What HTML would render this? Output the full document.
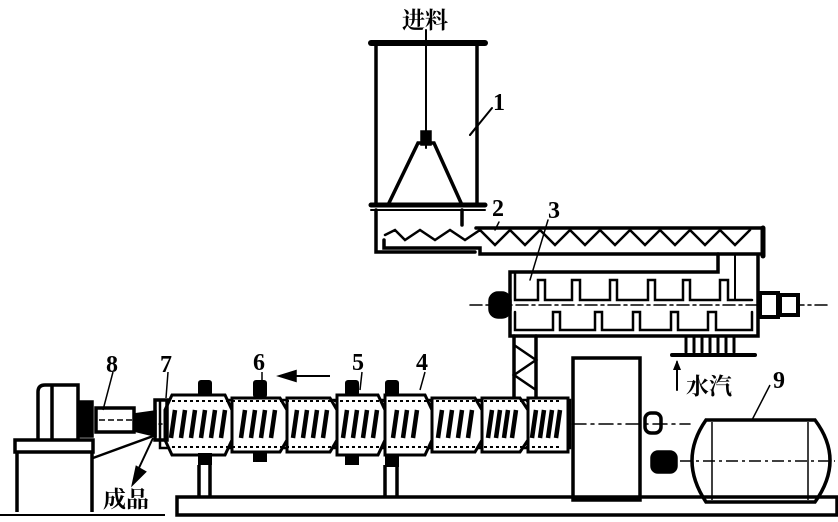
<!DOCTYPE html>
<html><head><meta charset="utf-8"><style>
html,body{margin:0;padding:0;background:#fff;}
svg{display:block;}
text{font-family:"Liberation Serif","Noto Serif CJK SC","Noto Sans CJK SC",serif;font-weight:bold;fill:#000;}
</style></head><body>
<svg width="838" height="522" viewBox="0 0 838 522" xmlns="http://www.w3.org/2000/svg">
<g stroke="#000" fill="none" stroke-width="3.5" stroke-linecap="round">
<!-- hopper -->
<line x1="371" y1="43" x2="485" y2="43" stroke-width="6"/>
<line x1="376" y1="43" x2="376" y2="205"/>
<line x1="477" y1="43" x2="477" y2="205"/>
<line x1="371" y1="205" x2="485" y2="205" stroke-width="5"/>
<line x1="371" y1="210" x2="485" y2="210" stroke-width="2"/>
<line x1="426" y1="30" x2="426" y2="148" stroke-width="2"/>
<polyline points="388,205 418,143 434,143 462,205"/>
<rect x="422" y="132" width="8" height="12" fill="#000"/>
<line x1="478" y1="125" x2="470" y2="135" stroke-width="2"/>
<line x1="470" y1="135" x2="492" y2="108" stroke-width="2"/>
<!-- conveyor 2 -->
<polyline points="376,210 376,252 475,252"/>
<polyline points="384,240 384,248 480,248 480,254 760,254"/>
<line x1="462" y1="210" x2="462" y2="225"/>
<line x1="476" y1="228" x2="762" y2="228"/>
<polyline points="385,235 395,230 405,240 420,230 435,240 450,230 465,240 480,230 495,245 510,230 525,245 540,230 555,245 570,230 585,245 600,230 615,245 630,230 645,245 660,230 675,245 690,230 705,245 720,230 735,245 750,230" stroke-width="2.5"/>
<line x1="763" y1="228" x2="763" y2="256" stroke-width="5"/>
<line x1="499" y1="222" x2="495" y2="230" stroke-width="1.5"/>
<!-- conditioner 3 -->
<polyline points="718,254 718,272 510,272 510,336 758,336 758,256"/>
<line x1="735" y1="256" x2="735" y2="300" stroke-width="2"/>
<polyline points="515,272 515,300 538,300 538,280 545,280 545,300 572,300 572,280 580,280 580,300 610,300 610,280 617,280 617,300 648,300 648,280 655,280 655,300 683,300 683,280 690,280 690,300 720,300 720,280 728,280 728,300 752,300" stroke-width="2.5"/>
<polyline points="515,312 515,330 553,330 553,312 560,312 560,330 595,330 595,312 602,312 602,330 633,330 633,312 640,312 640,330 671,330 671,312 678,312 678,330 708,330 708,312 716,312 716,330 752,330 752,312" stroke-width="2.5"/>
<line x1="470" y1="305" x2="830" y2="305" stroke-width="1.5" stroke-dasharray="12,4,3,4"/>
<line x1="548" y1="220" x2="530" y2="280" stroke-width="1.5"/>
<rect x="490" y="293" width="20" height="24" rx="8" fill="#000"/>
<rect x="760" y="293" width="18" height="24" fill="#fff" stroke-width="4"/>
<rect x="780" y="295" width="18" height="20" fill="#fff" stroke-width="4"/>
<!-- steam -->
<g stroke-width="3"><line x1="686" y1="336" x2="686" y2="352"/><line x1="694" y1="336" x2="694" y2="352"/><line x1="702" y1="336" x2="702" y2="352"/><line x1="710" y1="336" x2="710" y2="352"/><line x1="718" y1="336" x2="718" y2="352"/><line x1="726" y1="336" x2="726" y2="352"/><line x1="734" y1="336" x2="734" y2="352"/></g>
<line x1="672" y1="355" x2="755" y2="355" stroke-width="4"/>
<line x1="677" y1="362" x2="677" y2="390" stroke-width="2"/>
<!-- truss/support -->
<polyline points="514,336 514,398"/>
<polyline points="536,336 536,398"/>
<polyline points="514,345 536,360 514,375 536,390" stroke-width="2.5"/>
<!-- block -->
<rect x="573" y="358" width="67" height="142"/>
<!-- barrel -->
<rect x="160" y="400" width="410" height="48" stroke-width="2.5"/>
<line x1="140" y1="424" x2="690" y2="424" stroke-width="1.5" stroke-dasharray="14,5,3,5"/>
</g>
<g stroke="#000" stroke-width="3" fill="#fff">
<path d="M172,395 L225,395 L232,410 L232,440 L225,455 L172,455 L165,440 L165,410Z"/>
<path d="M232,398 L280,398 L287,410 L287,440 L280,452 L232,452Z"/>
<path d="M287,398 L330,398 L337,410 L337,440 L330,452 L287,452Z"/>
<path d="M337,395 L378,395 L385,410 L385,440 L378,455 L337,455Z"/>
<path d="M385,395 L425,395 L432,410 L432,440 L425,455 L385,455Z"/>
<path d="M432,398 L475,398 L482,410 L482,440 L475,452 L432,452Z"/>
<path d="M482,398 L520,398 L528,410 L528,440 L520,452 L482,452Z"/>
<path d="M528,398 L568,398 L568,452 L528,452Z"/>
</g>
<g stroke="#000" stroke-width="4.5">
<path d="M175,410 l-4,28 M185,410 l-4,28 M195,410 l-4,28 M205,410 l-4,28 M215,410 l-4,28 M225,410 l-4,28 M245,410 l-4,28 M255,410 l-4,28 M265,410 l-4,28 M275,410 l-4,28 M297,410 l-4,28 M307,410 l-4,28 M317,410 l-4,28 M327,410 l-4,28 M347,410 l-4,28 M357,410 l-4,28 M367,410 l-4,28 M377,410 l-4,28 M397,410 l-4,28 M407,410 l-4,28 M417,410 l-4,28 M442,410 l-4,28 M452,410 l-4,28 M462,410 l-4,28 M472,410 l-4,28 M492,410 l-4,28 M500,410 l-4,28 M508,410 l-4,28 M516,410 l-4,28 M536,410 l-4,28 M544,410 l-4,28 M552,410 l-4,28 M560,410 l-4,28"/>
</g>
<g stroke="#000" stroke-width="2" stroke-dasharray="3,3">
<line x1="172" y1="401" x2="560" y2="401"/>
<line x1="172" y1="447" x2="560" y2="447"/>
</g>
<g fill="#000">
<rect x="198" y="380" width="14" height="16" rx="3"/>
<rect x="253" y="380" width="14" height="18" rx="3"/>
<rect x="345" y="380" width="14" height="16" rx="3"/>
<rect x="385" y="380" width="14" height="16" rx="3"/>
<rect x="198" y="453" width="14" height="12"/>
<rect x="253" y="452" width="14" height="10"/>
<rect x="345" y="455" width="14" height="10"/>
<rect x="385" y="455" width="14" height="12"/>
</g>
<g stroke="#000" fill="none" stroke-width="3.5">
<line x1="199" y1="465" x2="199" y2="497"/><line x1="210" y1="465" x2="210" y2="497"/>
<line x1="385" y1="465" x2="385" y2="497"/><line x1="397" y1="465" x2="397" y2="497"/>
<rect x="177" y="497" width="660" height="18"/>
<!-- coupling + motor 9 -->
<rect x="645" y="413" width="16" height="20" rx="6"/>
<rect x="652" y="452" width="24" height="20" rx="6" fill="#000"/>
<path d="M706,420 L815,420 Q845,460 815,502 L706,502 Q678,460 706,420Z"/>
<line x1="712" y1="422" x2="712" y2="500" stroke-width="1.5"/>
<line x1="808" y1="422" x2="808" y2="500" stroke-width="1.5"/>
<line x1="680" y1="461" x2="835" y2="461" stroke-width="1.5" stroke-dasharray="12,4,3,4"/>
<line x1="752" y1="420" x2="770" y2="385" stroke-width="1.5"/>
<!-- left machine -->
<path d="M38,440 L38,392 Q38,385 45,385 L78,385 L78,440"/>
<line x1="52" y1="385" x2="52" y2="440"/>
<rect x="80" y="402" width="12" height="34" fill="#000"/>
<rect x="15" y="440" width="78" height="12"/>
<line x1="17" y1="452" x2="17" y2="512"/><line x1="92" y1="452" x2="92" y2="512"/>
<rect x="96" y="408" width="38" height="24"/>
<line x1="99" y1="420" x2="132" y2="420" stroke-dasharray="6,3" stroke-width="1.5"/>
<polyline points="134,415 155,412 155,435 134,430" fill="#000"/>
<rect x="155" y="400" width="12" height="40"/>
<line x1="93" y1="458" x2="156" y2="435" stroke-width="2.5"/>
<line x1="0" y1="515" x2="165" y2="515" stroke-width="2"/>
<line x1="153" y1="438" x2="138" y2="470" stroke-width="2"/>
<path d="M137,468 L144,472 L134,482Z" fill="#000"/>
<line x1="113" y1="372" x2="103" y2="410" stroke-width="1.5"/>
<line x1="168" y1="372" x2="166" y2="398" stroke-width="1.5"/>
<line x1="262" y1="372" x2="262" y2="380" stroke-width="1.5"/>
<line x1="362" y1="372" x2="360" y2="390" stroke-width="1.5"/>
<line x1="425" y1="372" x2="420" y2="390" stroke-width="1.5"/>
<line x1="290" y1="376" x2="330" y2="376" stroke-width="2"/>
<path d="M282,376 L295,372 L295,380Z" fill="#000"/>
</g>
<path d="M677,360 L673,370 L681,370Z" fill="#000"/>
<text x="402" y="28" font-size="23">进料</text>
<text x="493" y="110" font-size="24">1</text>
<text x="492" y="216" font-size="24">2</text>
<text x="548" y="218" font-size="24">3</text>
<text x="106" y="372" font-size="24">8</text>
<text x="160" y="372" font-size="24">7</text>
<text x="253" y="370" font-size="24">6</text>
<text x="352" y="370" font-size="24">5</text>
<text x="416" y="370" font-size="24">4</text>
<text x="773" y="388" font-size="24">9</text>
<text x="686" y="394" font-size="23">水汽</text>
<text x="103" y="507" font-size="23">成品</text>
</svg>
</body></html>
